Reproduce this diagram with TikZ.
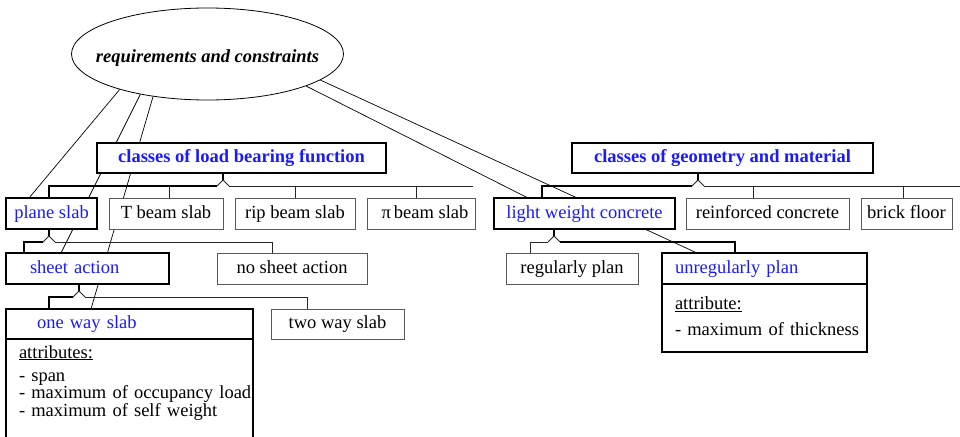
\documentclass[tikz,border=0pt]{standalone}
\usepackage{fontspec}
\setmainfont{Liberation Serif}
\usetikzlibrary{shapes.geometric,backgrounds}
\definecolor{selblue}{HTML}{1A1AFF}
\tikzset{
  classbox/.style={draw=black!65, line width=0.8pt, fill=white, anchor=north west,
                   outer sep=0pt, minimum height=31pt, inner xsep=2pt, inner ysep=0pt,
                   text height=13pt, text depth=4pt,
                   font=\fontsize{18.5}{17.5}\selectfont},
  selbox/.style={classbox, draw=black, line width=2pt, text=selblue},
  headbox/.style={selbox, minimum height=30pt, font=\fontsize{18.5}{17.5}\selectfont\bfseries},
  attrbox/.style={draw=black, line width=2pt, fill=white, anchor=north west,
                  outer sep=0pt, inner ysep=0pt, inner xsep=13pt, align=left,
                  font=\fontsize{18.5}{17.5}\selectfont},
  busline/.style={draw=black!85, line width=0.8pt},
  selbus/.style={draw=black, line width=2pt},
  reqline/.style={draw=black, line width=0.7pt},
}

\begin{document}
\begin{tikzpicture}[x=1pt, y=-1pt]
  \useasboundingbox (0,0) rectangle (960,436);

  \node[ellipse, draw, line width=0.8pt, minimum width=272pt, minimum height=92pt,
        inner xsep=-17pt, inner ysep=0pt, text height=18pt, text depth=0pt,
        font=\fontsize{18.5}{17.5}\selectfont\bfseries\itshape] (req) at (207.5,54)
        {requirements and constraints};

  % classes
  \node[headbox, minimum width=289pt] (lbf) at (97,143) {classes of load bearing function};
  \node[headbox, minimum width=301pt] (gm) at (572,143) {classes of geometry and material};

  \node[selbox, minimum width=91pt] (ps) at (6,198) {plane slab};
  \node[classbox, minimum width=114pt] (tb) at (109,198) {T beam slab};
  \node[classbox, minimum width=120pt] (rb) at (235,198) {rip beam slab};
  \node[classbox, minimum width=108pt] (pb) at (367,198) {\hspace{8pt}π\,beam slab};
  \node[selbox, minimum width=181pt] (lwc) at (494,198) {light weight concrete};
  \node[classbox, minimum width=163pt] (rc) at (686,198) {reinforced concrete};
  \node[classbox, minimum width=91pt] (bf) at (861,198) {brick floor};

  \node[selbox, inner xsep=24pt, text width=115pt, align=left] (sa) at (6,253) {sheet action};
  \node[classbox, minimum width=150pt] (ns) at (217,253) {no sheet action};
  \node[classbox, minimum width=132pt] (rp) at (506,253) {regularly plan};
  \node[selbox, inner xsep=13pt, text width=179pt, align=left] (up) at (662,253) {unregularly plan};
  \node[attrbox, text width=179pt, text height=25.5pt, text depth=42.5pt] (upAttr) at (up.south west)
    {\underline{attribute:}\\[8pt] \mbox{- maximum of thickness}};

  \node[selbox, minimum height=30pt, inner xsep=31pt, text width=185pt, align=left] (ow) at (6,309) {one way slab};
  \node[classbox, minimum height=30pt, minimum width=133pt] (tw) at (271,309) {two way slab};
  \node[attrbox, text width=221pt, text height=19pt, text depth=100pt] (owAttr) at (ow.south west)
    {\underline{attributes:}\\[5.5pt] - span\\ \mbox{- maximum of occupancy load}\\ \mbox{- maximum of self weight}};

  % links from the ellipse, behind the boxes
  \begin{scope}[on background layer]
    \fill[white] (0,0) rectangle (960,436);
    \draw[reqline] (req.202) -- ([xshift=23pt]ps.north west);
    \draw[reqline] (req.211) -- ([xshift=55pt]sa.north west);
    \draw[reqline] (req.218) -- ([xshift=85pt]ow.north west);
    \draw[reqline] (req.342) -- ([xshift=34pt]lwc.north west);
    \draw[reqline] (req.347) -- ([xshift=35pt]up.north west);
  \end{scope}

  % inheritance trees
  \coordinate (lbfTip) at (223,180);
  \coordinate (gmTip) at (698,180);
  \coordinate (psTip) at (49,236);
  \coordinate (saTip) at (79,291);
  \coordinate (lwcTip) at (554,236);

  \draw[selbus] (lbfTip |- lbf.south) -- (lbfTip);
  \draw[selbus] (gmTip |- gm.south) -- (gmTip);
  \draw[selbus] (psTip |- ps.south) -- (psTip);
  \draw[selbus] (saTip |- sa.south) -- (saTip);
  \draw[selbus] (lwcTip |- lwc.south) -- (lwcTip);
  \foreach \t in {lbfTip, gmTip, psTip, saTip, lwcTip}
    \draw[busline] ([xshift=-6pt,yshift=-6pt]\t) -- (\t) -- ([xshift=6pt,yshift=-6pt]\t);

  \draw[selbus] ([xshift=43pt]ps.north west) |- ([xshift=-6pt,yshift=-6pt]lbfTip);
  \draw[busline] ([xshift=6pt,yshift=-6pt]lbfTip) -- ++(244,0);
  \foreach \n/\dx in {tb/60, rb/60, pb/49}
    \draw[busline] ([xshift=\dx pt]\n.north west) -- ++(0,-12);

  \draw[selbus] ([xshift=48pt]lwc.north west) |- ([xshift=-6pt,yshift=-6pt]gmTip);
  \draw[busline] ([xshift=6pt,yshift=-6pt]gmTip) -- ++(256,0);
  \foreach \n/\dx in {rc/67, bf/42}
    \draw[busline] ([xshift=\dx pt]\n.north west) -- ++(0,-12);

  \draw[selbus] ([xshift=18pt]sa.north west) |- ([xshift=-6pt,yshift=-6pt]psTip);
  \draw[busline] ([xshift=6pt,yshift=-6pt]psTip) -| ([xshift=55pt]ns.north west);

  \draw[selbus] ([xshift=43pt]ow.north west) |- ([xshift=-6pt,yshift=-6pt]saTip);
  \draw[busline] ([xshift=6pt,yshift=-6pt]saTip) -| ([xshift=36pt]tw.north west);

  \draw[busline] ([xshift=24pt]rp.north west) |- ([xshift=-6pt,yshift=-6pt]lwcTip);
  \draw[selbus] ([xshift=6pt,yshift=-6pt]lwcTip) -| ([xshift=73pt]up.north west);
\end{tikzpicture}
\end{document}
